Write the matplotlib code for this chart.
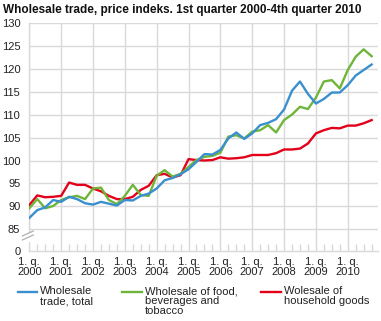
import matplotlib
matplotlib.use("Agg")
import matplotlib.pyplot as plt
from matplotlib.lines import Line2D
import numpy as np

plt.rcParams['font.family'] = ['Liberation Sans', 'DejaVu Sans']

# Quarterly price index, 1st quarter 2000 - 4th quarter 2010
years = list(range(2000, 2011))
tick_labels = [f"1. q.\n{y}" for y in years]

wholesale_total = [
    87.5, 89.2, 89.8, 91.4, 91.0, 92.1, 91.6, 90.7, 90.4, 91.0, 90.6,
    90.2, 91.4, 91.3, 92.3, 92.8, 93.9, 95.7, 96.2, 97.0, 98.1, 99.7,
    101.4, 101.3, 102.3, 104.8, 106.1, 104.7, 105.9, 107.7, 108.2, 109.0,
    111.1, 115.2, 117.2, 114.5, 112.4, 113.4, 114.8, 114.8, 116.4, 118.5,
    119.7, 120.9,
]
food_beverages_tobacco = [
    89.6, 91.6, 89.6, 90.1, 91.4, 92.0, 92.3, 91.6, 93.9, 94.1, 91.4,
    90.5, 92.3, 94.7, 92.5, 92.3, 96.7, 97.9, 96.5, 97.1, 98.6, 100.1,
    100.8, 101.0, 101.7, 105.2, 105.5, 104.8, 106.3, 106.6, 107.7, 106.1,
    108.8, 110.0, 111.7, 111.2, 113.7, 117.2, 117.5, 115.7, 119.7, 122.6,
    124.2, 122.7,
]
household_goods = [
    90.3, 92.4, 92.0, 92.1, 92.3, 95.2, 94.7, 94.7, 93.9, 93.3, 92.3,
    91.6, 91.6, 92.1, 93.6, 94.5, 96.8, 97.1, 96.3, 96.8, 100.3, 100.1,
    100.0, 100.1, 100.7, 100.4, 100.5, 100.7, 101.2, 101.2, 101.2, 101.6,
    102.4, 102.4, 102.6, 103.7, 105.9, 106.6, 107.1, 107.0, 107.6, 107.6,
    108.1, 108.8,
]

series_labels = ["Wholesale\ntrade, total",
                 "Wholesale of food,\nbeverages and\ntobacco",
                 "Wolesale of\nhousehold goods"]
colors = ["#3a8fcf", "#6fb53a", "#e2001a"]

y_ticks = [85, 90, 95, 100, 105, 110, 115, 120, 125, 130]
axis_floor = 80.3  # position of the broken-axis zero

t = 2000 + np.arange(len(wholesale_total)) / 4.0

W, H = 381, 321
fig = plt.figure(figsize=(W / 100, H / 100), dpi=100)
ax = fig.add_axes([29.3 / W, 1 - 251 / H, (378 - 29.3) / W, (251 - 22.7) / H])

grid_c = "#d9d9d9"
lw = 1.7
ax.plot(t, household_goods, color=colors[2], lw=lw, zorder=3)
ax.plot(t, food_beverages_tobacco, color=colors[1], lw=lw, zorder=4)
ax.plot(t, wholesale_total, color=colors[0], lw=lw, zorder=5)

ax.set_xlim(2000, 2010.75 + 0.2)
ax.set_ylim(axis_floor, 130)

ax.set_yticks([axis_floor] + y_ticks)
ax.set_yticklabels(["0"] + [str(v) for v in y_ticks])
ax.set_xticks(years)
ax.set_xticklabels(tick_labels)
ax.set_xticks(t, minor=True)

for v in y_ticks:
    ax.axhline(v, color=grid_c, lw=1.0, zorder=1)
for y in years:
    ax.axvline(y, color=grid_c, lw=1.0, zorder=1)

for s in ["top", "right"]:
    ax.spines[s].set_visible(False)
for s in ["left", "bottom"]:
    ax.spines[s].set_color(grid_c)
    ax.spines[s].set_linewidth(1.0)

ax.tick_params(axis="y", length=0, pad=6.5, labelsize=8, colors="#222222")
ax.tick_params(axis="x", which="major", length=0, pad=4.5, labelsize=8, colors="#222222")
ax.tick_params(axis="x", which="minor", direction="in", length=5, color=grid_c, width=1.0)
for lab in ax.get_xticklabels():
    lab.set_linespacing(0.95)

# axis break marks between 0 and 85
trans = ax.transAxes
h = 1.0 / (251 - 22.7)
w = 1.0 / (378 - 29.3)
ax.add_patch(plt.Rectangle((-3 * w, 10 * h), 6 * w, 8 * h, transform=trans,
                           color="white", clip_on=False, zorder=6))
for dy in (11, 15):
    ax.plot([-7 * w, 4 * w], [dy * h, (dy + 5) * h], transform=trans,
            color="#b0b0b0", lw=0.9, clip_on=False, zorder=7)

fig.text(3 / W, 1 - 10 / H, "Wholesale trade, price indeks. 1st quarter 2000-4th quarter 2010",
         fontsize=8.5, fontweight="bold", va="center", ha="left", color="#111111")

# legend: swatch and top-aligned label for each series
legend_x = [(18.3, 36.7, 40), (121.7, 141.7, 145), (261, 281, 284)]
for (x0, x1, xt), c, lab in zip(legend_x, colors, series_labels):
    fig.add_artist(Line2D([x0 / W, x1 / W], [1 - 292.3 / H] * 2, color=c, lw=lw,
                          transform=fig.transFigure))
    fig.text(xt / W, 1 - 286.5 / H, lab, fontsize=8, va="top", ha="left",
             color="#222222", linespacing=0.95)

fig.savefig("out.png", dpi=100)
